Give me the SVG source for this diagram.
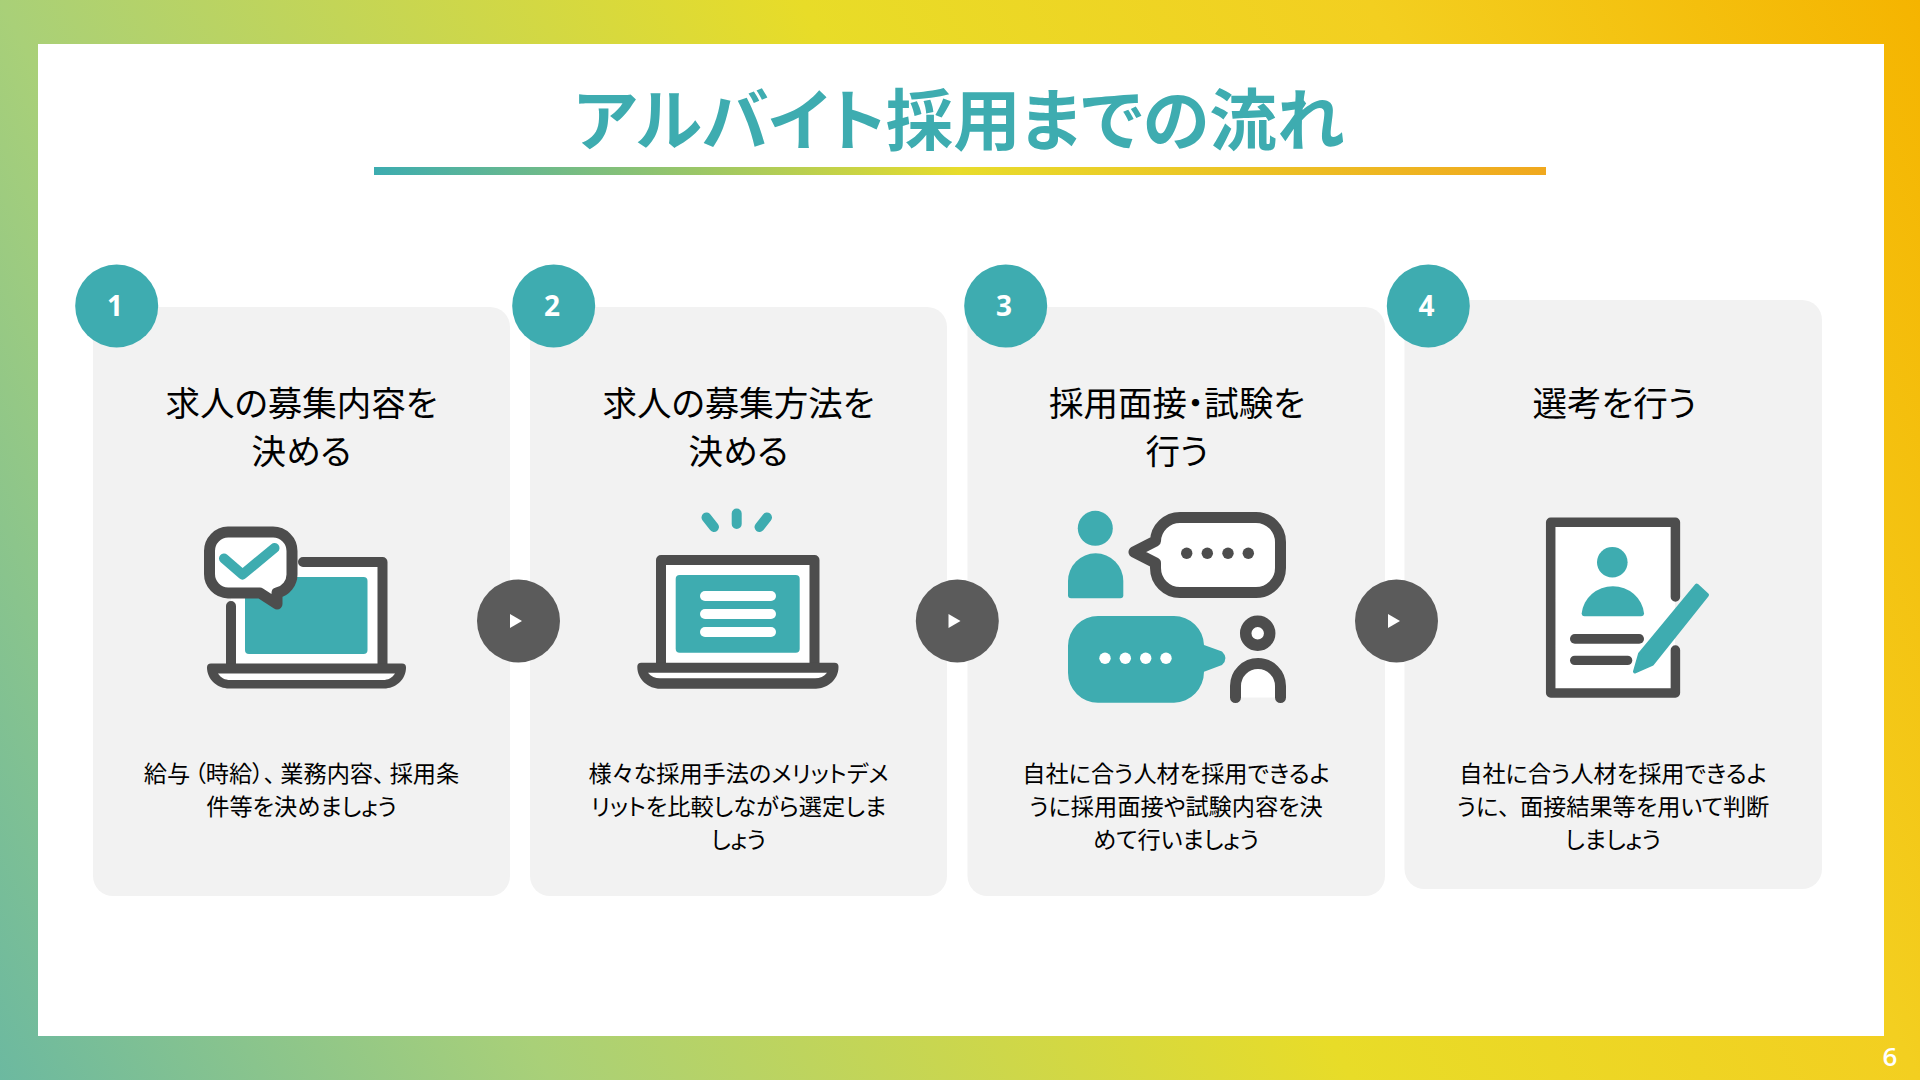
<svg xmlns="http://www.w3.org/2000/svg" width="1920" height="1080" viewBox="0 0 1920 1080">
<defs>
<linearGradient id="bg" gradientUnits="userSpaceOnUse" x1="0" y1="1080" x2="1961" y2="81">
<stop offset="0" stop-color="#6cb9a0"/><stop offset="0.223" stop-color="#a9d078"/><stop offset="0.547" stop-color="#e8dc28"/><stop offset="0.777" stop-color="#f3cf20"/><stop offset="1" stop-color="#f5b400"/>
</linearGradient>
<linearGradient id="rule" gradientUnits="userSpaceOnUse" x1="374" y1="0" x2="1546" y2="0">
<stop offset="0" stop-color="#3cacb0"/><stop offset="0.5" stop-color="#e8dc2c"/><stop offset="1" stop-color="#f0a81e"/>
</linearGradient>
<style>
.card{fill:#f2f2f2}
.num{fill:#3eacb0}
.numt{font-family:"Open Sans","Noto Sans",sans-serif;font-weight:700;font-size:28px;fill:#fff;text-anchor:middle}
.h{font-family:"Noto Sans CJK JP","Noto Sans",sans-serif;font-size:34.500px;fill:#000;text-anchor:middle;font-feature-settings:"palt"}
.b{font-family:"Noto Sans CJK JP","Noto Sans",sans-serif;font-size:23.200px;fill:#000;text-anchor:middle;font-feature-settings:"palt"}
.p{letter-spacing:5px}
.t{fill:#3eacb0}
.d{fill:#4d4d4d}
.w{fill:#fff}
.ds{fill:none;stroke:#4d4d4d;stroke-width:10;stroke-linecap:round;stroke-linejoin:round}
.ts{fill:none;stroke:#3eacb0;stroke-width:10;stroke-linecap:round;stroke-linejoin:round}
.arr{fill:#5b5b5b}
</style>
</defs>
<rect width="1920" height="1080" fill="url(#bg)"/>
<rect x="38" y="44" width="1846" height="992" fill="#fff"/>
<g id="title">
<text x="959" y="145" font-family="'Noto Sans CJK JP','Noto Sans',sans-serif" font-weight="700" font-size="67.500" fill="#3eacb0" text-anchor="middle" style="font-feature-settings:'palt'">アルバイト採用までの流れ</text>
<rect x="374" y="167" width="1172" height="8" fill="url(#rule)"/>
</g>
<g id="step1">
<rect class="card" x="93" y="307" width="417" height="589" rx="20"/>
<circle class="num" cx="116.700" cy="306" r="41.500"/>
<text class="numt" x="115" y="316">1</text>
<text class="h" x="301.500" y="416">求人の募集内容を</text>
<text class="h" x="301.500" y="464">決める</text>
<rect class="w" x="231" y="562" width="152" height="104"/>
<rect class="t" x="245" y="577" width="122.500" height="77" rx="4"/>
<path class="ds" d="M303,562 H382.500 V668 M231,606 V668"/>
<path class="d" d="M211,663.500 H402 a4,4 0 0 1 4,4 C406,680 395,688.500 384,688.500 H229 C218,688.500 207,680 207,667.500 a4,4 0 0 1 4,-4 z"/>
<path class="w" d="M218,673.500 H395 C392,678 388,680 383,680 H230 C225,680 221,678 218,673.500 z"/>
<path d="M228,532 H273 A19,19 0 0 1 292,551 V574 A19,19 0 0 1 277,593 V604 L260,593 H228 A19,19 0 0 1 209.500,574 V551 A19,19 0 0 1 228,532 Z" fill="#fff" stroke="#4d4d4d" stroke-width="11" stroke-linejoin="round"/>
<path class="ts" d="M224,558.500 L242.500,574.500 L274.500,548"/>
<text class="b" x="301.500" y="782">給与<tspan dx="4">（</tspan>時給）<tspan class="p">、</tspan>業務内容<tspan class="p">、</tspan>採用条</text>
<text class="b" x="301.500" y="815">件等を決めましょう</text>
</g>
<g id="step2">
<rect class="card" x="530" y="307" width="417" height="589" rx="20"/>
<circle class="num" cx="553.700" cy="306" r="41.500"/>
<text class="numt" x="552" y="316">2</text>
<text class="h" x="738.500" y="416">求人の募集方法を</text>
<text class="h" x="738.500" y="464">決める</text>
<rect class="w" x="661" y="560" width="153" height="106"/>
<rect class="t" x="675.700" y="575" width="124" height="77.700" rx="4"/>
<rect class="w" x="700" y="591" width="76" height="10" rx="5"/>
<rect class="w" x="700" y="609" width="76" height="10" rx="5"/>
<rect class="w" x="700" y="627" width="76" height="10" rx="5"/>
<path class="ds" d="M661,668 V560 H814.500 V668"/>
<path class="d" d="M641.500,662.700 H834.500 a4,4 0 0 1 4,4 C838.700,680 827,688.700 816,688.700 H660 C649,688.700 637.300,680 637.300,666.700 a4,4 0 0 1 4,-4 z"/>
<path class="w" d="M648,672.700 H827 C824,676.500 820,678.300 815,678.300 H660 C655,678.300 651,676.500 648,672.700 z"/>
<path class="ts" d="M736.700,513.500 V524 M706.500,517.500 L714,527 M767,517.500 L759.500,527"/>
<text class="b" x="738.500" y="782">様々な採用手法のメリットデメ</text>
<text class="b" x="738.500" y="815">リットを比較しながら選定しま</text>
<text class="b" x="738.500" y="848">しょう</text>
</g>
<g id="step3">
<rect class="card" x="967.500" y="307" width="417.500" height="589" rx="20"/>
<circle class="num" cx="1005.700" cy="306" r="41.500"/>
<text class="numt" x="1004" y="316">3</text>
<text class="h" x="1177" y="416">採用面接・試験を</text>
<text class="h" x="1177" y="464">行う</text>
<circle class="t" cx="1095.300" cy="528.300" r="17.500"/>
<path class="t" d="M1071,598.300 H1120.300 a3,3 0 0 0 3,-3 V581 A27.600,27.600 0 0 0 1068,581 V595.300 a3,3 0 0 0 3,3 z"/>
<path d="M1180,517.500 H1256 A24.500,24.500 0 0 1 1280.500,542 V568 A24.500,24.500 0 0 1 1256,592.500 H1180 A24.500,24.500 0 0 1 1155.500,568 V563 L1134,552 L1155.500,541 A24.500,24.500 0 0 1 1180,517.500 Z" fill="#fff" stroke="#4d4d4d" stroke-width="11" stroke-linejoin="round"/>
<g class="d"><circle cx="1186.700" cy="553.300" r="5.700"/><circle cx="1207.300" cy="553.300" r="5.700"/><circle cx="1228" cy="553.300" r="5.700"/><circle cx="1248.300" cy="553.300" r="5.700"/></g>
<path class="t" d="M1098,616 H1174 A30,30 0 0 1 1204,645 L1222,651.500 Q1229,658.300 1222,665 L1204,671.700 A30,31 0 0 1 1174,702.700 H1098 A30,30 0 0 1 1068,672.700 V646 A30,30 0 0 1 1098,616 Z"/>
<g class="w"><circle cx="1105" cy="658.300" r="5.700"/><circle cx="1125.300" cy="658.300" r="5.700"/><circle cx="1145.700" cy="658.300" r="5.700"/><circle cx="1166" cy="658.300" r="5.700"/></g>
<circle cx="1257.700" cy="633.300" r="12" fill="#fff" stroke="#4d4d4d" stroke-width="11.500"/>
<path d="M1235.500,697.600 V686 A22.500,22.500 0 0 1 1280.500,686 V697.600" fill="#fff" stroke="#4d4d4d" stroke-width="11" stroke-linecap="round"/>
<text class="b" x="1176" y="782">自社に合う人材を採用できるよ</text>
<text class="b" x="1176" y="815">うに採用面接や試験内容を決</text>
<text class="b" x="1176" y="848">めて行いましょう</text>
</g>
<g id="step4">
<rect class="card" x="1404.500" y="300" width="417.500" height="589" rx="20"/>
<circle class="num" cx="1428.300" cy="306" r="41.500"/>
<text class="numt" x="1426.500" y="316">4</text>
<text class="h" x="1614.500" y="416">選考を行う</text>
<rect class="w" x="1551" y="522" width="124" height="171"/>
<path d="M1675.400,597 V522.300 H1550.700 V693 H1675.400 V650" fill="none" stroke="#4d4d4d" stroke-width="9.500" stroke-linecap="round" stroke-linejoin="round"/>
<circle class="t" cx="1612.300" cy="562.300" r="15.300"/>
<path class="t" d="M1584.500,616.300 H1641 a3,3 0 0 0 3,-3 A31.300,30 0 0 0 1581.700,613.300 a3,3 0 0 0 2.800,3 z"/>
<rect class="d" x="1570" y="634" width="74" height="9.700" rx="4.800"/>
<rect class="d" x="1570" y="655.700" width="62.300" height="9.400" rx="4.700"/>
<path d="M1640,654 L1696.700,585.500 L1707,595 L1652,664 L1635,671.500 Z" fill="#3eacb0" stroke="#3eacb0" stroke-width="4" stroke-linejoin="round"/>
<text class="b" x="1613" y="782">自社に合う人材を採用できるよ</text>
<text class="b" x="1613" y="815">うに<tspan style="letter-spacing:10px">、</tspan>面接結果等を用いて判断</text>
<text class="b" x="1613" y="848">しましょう</text>
</g>
<g id="connectors">
<circle class="arr" cx="518.500" cy="621" r="41.500"/><path class="w" d="M510,614 L522,621 L510,628 Z"/>
<circle class="arr" cx="957.300" cy="621" r="41.500"/><path class="w" d="M948.500,614 L960.500,621 L948.500,628 Z"/>
<circle class="arr" cx="1396.500" cy="621" r="41.500"/><path class="w" d="M1388,614 L1400,621 L1388,628 Z"/>
</g>
<text id="page" x="1890" y="1066" font-family="'Open Sans','Noto Sans',sans-serif" font-weight="600" font-size="26" fill="#fff" text-anchor="middle">6</text>
</svg>
